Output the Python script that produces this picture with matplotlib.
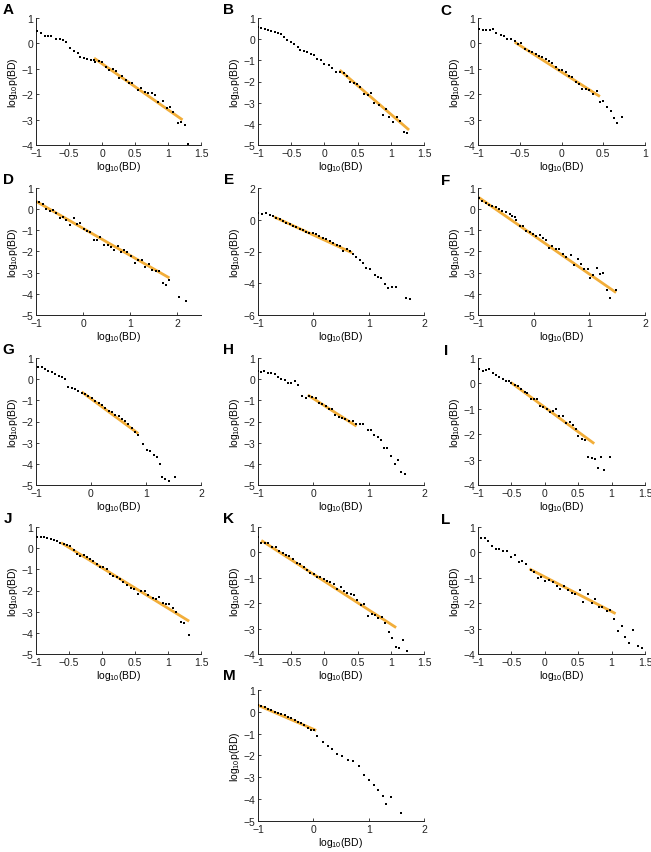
import matplotlib
matplotlib.use("Agg")
import matplotlib.pyplot as plt

plt.rcParams['font.family'] = ['Liberation Sans', 'DejaVu Sans']
plt.rcParams['mathtext.fontset'] = 'custom'
plt.rcParams['mathtext.rm'] = 'Liberation Sans'
plt.rcParams['mathtext.it'] = 'Liberation Sans'

# ---------------- data ----------------
A_x = [-0.99, -0.93, -0.87, -0.82, -0.77, -0.69, -0.64, -0.59, -0.54, -0.49, -0.43, -0.37, -0.33, -0.28,
       -0.22, -0.17, -0.12, -0.11, -0.05, 0.005, 0.06, 0.11, 0.16, 0.21, 0.26, 0.31, 0.36, 0.41, 0.46,
       0.54, 0.59, 0.65, 0.70, 0.75, 0.80, 0.85, 0.92, 0.98, 1.03, 1.08, 1.15, 1.20, 1.25, 1.31]
A_y = [0.47, 0.42, 0.29, 0.31, 0.31, 0.18, 0.19, 0.12, 0.07, -0.17, -0.28, -0.39, -0.52, -0.58,
       -0.62, -0.64, -0.65, -0.74, -0.69, -0.72, -0.91, -1.04, -1.00, -1.10, -1.36, -1.30, -1.43, -1.56, -1.56,
       -1.84, -1.77, -1.93, -1.96, -1.97, -2.03, -2.30, -2.28, -2.56, -2.51, -2.69, -3.12, -3.09, -3.22, -3.97]
A_fit_x = [-0.12, 1.22]
A_fit_y = [-0.58, -3.01]

B_x = [-1.0, -0.95, -0.90, -0.85, -0.80, -0.75, -0.70, -0.65, -0.61, -0.56, -0.51, -0.46, -0.40, -0.36,
       -0.31, -0.26, -0.20, -0.15, -0.11, -0.05, 0.0, 0.065, 0.12, 0.18, 0.24, 0.29, 0.34, 0.39, 0.44,
       0.49, 0.54, 0.59, 0.65, 0.70, 0.75, 0.815, 0.875, 0.925, 0.975, 1.03, 1.09, 1.14, 1.20, 1.25]
B_y = [0.56, 0.53, 0.48, 0.42, 0.40, 0.36, 0.29, 0.23, 0.10, -0.02, -0.15, -0.24, -0.38, -0.49,
       -0.54, -0.62, -0.70, -0.76, -0.96, -1.00, -1.15, -1.23, -1.36, -1.53, -1.53, -1.62, -1.76, -2.01, -2.09,
       -2.14, -2.25, -2.59, -2.64, -2.56, -3.00, -3.10, -3.58, -3.32, -3.68, -3.91, -3.66, -3.87, -4.37, -4.45]
B_fit_x = [0.23, 1.275]
B_fit_y = [-1.46, -4.29]

C_x = [-0.99, -0.94, -0.90, -0.86, -0.82, -0.78, -0.73, -0.69, -0.65, -0.60, -0.56, -0.52, -0.48, -0.44,
       -0.39, -0.35, -0.31, -0.27, -0.23, -0.19, -0.15, -0.11, -0.07, -0.03, 0.01, 0.05, 0.09, 0.13, 0.17,
       0.21, 0.25, 0.29, 0.33, 0.38, 0.42, 0.46, 0.50, 0.54, 0.59, 0.63, 0.67, 0.72]
C_y = [0.58, 0.54, 0.53, 0.53, 0.56, 0.41, 0.34, 0.31, 0.18, 0.18, 0.08, -0.02, 0.0, -0.21,
       -0.28, -0.35, -0.41, -0.48, -0.54, -0.61, -0.68, -0.77, -0.91, -1.03, -1.04, -1.14, -1.27, -1.34, -1.53,
       -1.60, -1.80, -1.80, -1.82, -1.99, -1.89, -2.32, -2.26, -2.52, -2.65, -2.94, -3.12, -2.88]
C_fit_x = [-0.56, 0.46]
C_fit_y = [0.05, -2.09]

D_x = [-1.0, -0.93, -0.85, -0.78, -0.71, -0.64, -0.57, -0.50, -0.43, -0.36, -0.27, -0.20, -0.13, -0.06,
       0.01, 0.08, 0.15, 0.22, 0.29, 0.36, 0.45, 0.52, 0.59, 0.66, 0.73, 0.80, 0.87, 0.94, 1.01, 1.10,
       1.17, 1.24, 1.31, 1.39, 1.47, 1.54, 1.61, 1.69, 1.76, 1.83, 2.04, 2.19]
D_y = [0.35, 0.32, 0.25, 0.0, -0.11, -0.06, -0.16, -0.43, -0.37, -0.52, -0.75, -0.43, -0.71, -0.63,
       -0.92, -1.03, -1.06, -1.46, -1.46, -1.30, -1.67, -1.67, -1.78, -1.94, -1.75, -2.03, -1.95, -2.02, -2.22,
       -2.54, -2.41, -2.38, -2.73, -2.59, -2.86, -2.94, -2.94, -3.49, -3.57, -3.33, -4.16, -4.32]
D_fit_x = [-1.0, 1.83]
D_fit_y = [0.37, -3.25]

E_x = [-1.0, -0.92, -0.85, -0.79, -0.73, -0.67, -0.61, -0.55, -0.49, -0.43, -0.37, -0.31, -0.25, -0.19,
       -0.13, -0.07, -0.006, 0.05, 0.11, 0.17, 0.23, 0.30, 0.36, 0.42, 0.48, 0.54, 0.60, 0.66, 0.72, 0.78,
       0.84, 0.90, 0.96, 1.02, 1.11, 1.17, 1.23, 1.29, 1.35, 1.43, 1.50, 1.68, 1.74]
E_y = [0.41, 0.39, 0.43, 0.33, 0.22, 0.14, 0.03, -0.07, -0.18, -0.29, -0.39, -0.48, -0.56, -0.67,
       -0.75, -0.81, -0.86, -0.92, -1.03, -1.13, -1.24, -1.34, -1.45, -1.58, -1.66, -1.94, -1.83, -1.98, -2.13,
       -2.34, -2.51, -2.72, -3.04, -3.08, -3.50, -3.61, -3.69, -4.05, -4.31, -4.24, -4.26, -4.94, -5.01]
E_fit_x = [-0.71, 0.70]
E_fit_y = [0.18, -2.08]

F_x = [-0.98, -0.92, -0.86, -0.80, -0.74, -0.68, -0.62, -0.56, -0.49, -0.43, -0.39, -0.34, -0.31, -0.25,
       -0.19, -0.13, -0.07, -0.01, 0.05, 0.11, 0.17, 0.23, 0.27, 0.33, 0.40, 0.46, 0.52, 0.58, 0.67, 0.73,
       0.79, 0.85, 0.91, 0.97, 1.01, 1.07, 1.13, 1.19, 1.25, 1.31, 1.37, 1.48]
F_y = [0.53, 0.37, 0.27, 0.21, 0.15, 0.08, 0.0, -0.07, -0.12, -0.23, -0.31, -0.36, -0.50, -0.79,
       -0.79, -1.02, -1.10, -1.18, -1.26, -1.21, -1.34, -1.46, -1.84, -1.73, -1.89, -1.89, -2.10, -2.24, -2.16, -2.65,
       -2.34, -2.57, -2.81, -2.81, -3.23, -3.12, -2.79, -3.08, -3.00, -3.83, -4.18, -3.83]
F_fit_x = [-0.99, 1.48]
F_fit_y = [0.56, -3.94]

G_x = [-0.96, -0.90, -0.84, -0.78, -0.71, -0.65, -0.59, -0.53, -0.47, -0.41, -0.35, -0.29, -0.23, -0.17,
       -0.11, -0.05, 0.01, 0.07, 0.14, 0.20, 0.26, 0.32, 0.38, 0.44, 0.50, 0.56, 0.62, 0.68, 0.74, 0.80,
       0.86, 0.94, 1.02, 1.08, 1.14, 1.20, 1.25, 1.29, 1.35, 1.41, 1.53]
G_y = [0.59, 0.56, 0.48, 0.40, 0.32, 0.24, 0.16, 0.08, 0.0, -0.37, -0.43, -0.48, -0.56, -0.63,
       -0.68, -0.79, -0.90, -1.03, -1.14, -1.24, -1.35, -1.51, -1.56, -1.67, -1.75, -1.86, -1.98, -2.14, -2.30, -2.51,
       -2.62, -3.06, -3.37, -3.38, -3.57, -3.68, -4.02, -4.63, -4.73, -4.79, -4.60]
G_fit_x = [-0.17, 0.86]
G_fit_y = [-0.60, -2.57]

H_x = [-1.0, -0.95, -0.89, -0.82, -0.76, -0.70, -0.64, -0.58, -0.52, -0.46, -0.40, -0.34, -0.28, -0.20,
       -0.14, -0.08, -0.02, 0.04, 0.10, 0.16, 0.22, 0.28, 0.34, 0.40, 0.46, 0.52, 0.58, 0.64, 0.72, 0.78,
       0.84, 0.90, 0.98, 1.04, 1.10, 1.16, 1.22, 1.28, 1.34, 1.40, 1.47, 1.53, 1.59, 1.65]
H_y = [0.37, 0.33, 0.37, 0.29, 0.29, 0.24, 0.11, 0.03, -0.03, -0.19, -0.17, -0.11, -0.27, -0.79,
       -0.87, -0.81, -0.83, -0.90, -1.11, -1.16, -1.27, -1.40, -1.43, -1.67, -1.78, -1.84, -1.90, -1.98, -1.98, -2.14,
       -2.11, -2.11, -2.38, -2.38, -2.65, -2.73, -2.86, -3.25, -3.25, -3.62, -4.00, -3.84, -4.37, -4.48]
H_fit_x = [-0.10, 0.78]
H_fit_y = [-0.75, -2.22]

I_x = [-0.98, -0.93, -0.88, -0.83, -0.78, -0.73, -0.68, -0.63, -0.58, -0.53, -0.50, -0.45, -0.40, -0.35,
       -0.30, -0.26, -0.21, -0.16, -0.11, -0.07, -0.02, 0.03, 0.08, 0.13, 0.17, 0.22, 0.27, 0.32, 0.37, 0.42,
       0.47, 0.50, 0.55, 0.60, 0.65, 0.70, 0.75, 0.79, 0.84, 0.89, 0.98]
I_y = [0.57, 0.47, 0.54, 0.57, 0.39, 0.34, 0.24, 0.17, 0.11, 0.09, 0.0, -0.05, -0.12, -0.22,
       -0.32, -0.38, -0.62, -0.62, -0.62, -0.88, -0.93, -1.01, -1.12, -1.08, -1.01, -1.30, -1.30, -1.54, -1.51, -1.64,
       -1.78, -2.09, -2.17, -2.22, -2.89, -2.95, -2.99, -3.32, -2.89, -3.42, -2.89]
I_fit_x = [-0.51, 0.74]
I_fit_y = [0.04, -2.37]

J_x = [-0.98, -0.93, -0.88, -0.83, -0.78, -0.73, -0.68, -0.63, -0.58, -0.53, -0.48, -0.43, -0.38, -0.33,
       -0.28, -0.23, -0.18, -0.13, -0.08, -0.03, 0.02, 0.07, 0.12, 0.17, 0.22, 0.27, 0.32, 0.385, 0.435, 0.485,
       0.545, 0.595, 0.645, 0.695, 0.77, 0.82, 0.87, 0.92, 0.97, 1.02, 1.07, 1.12, 1.195, 1.245, 1.32]
J_y = [0.53, 0.53, 0.51, 0.46, 0.42, 0.37, 0.32, 0.26, 0.18, 0.13, 0.08, -0.11, -0.26, -0.39,
       -0.34, -0.42, -0.53, -0.61, -0.77, -0.90, -0.90, -0.97, -1.21, -1.32, -1.37, -1.45, -1.61, -1.76, -1.87, -1.95,
       -2.16, -2.00, -2.03, -2.19, -2.36, -2.40, -2.32, -2.60, -2.63, -2.63, -2.84, -3.03, -3.50, -3.53, -4.09]
J_fit_x = [-0.62, 1.32]
J_fit_y = [0.26, -3.45]

K_x = [-1.0, -0.95, -0.90, -0.85, -0.79, -0.73, -0.68, -0.63, -0.58, -0.53, -0.47, -0.41, -0.36, -0.31,
       -0.26, -0.21, -0.16, -0.11, -0.06, -0.01, 0.04, 0.09, 0.145, 0.185, 0.245, 0.295, 0.345, 0.395, 0.445, 0.495,
       0.545, 0.595, 0.655, 0.71, 0.76, 0.81, 0.86, 0.92, 0.97, 1.02, 1.08, 1.13, 1.19, 1.25]
K_y = [0.60, 0.37, 0.37, 0.36, 0.20, 0.20, 0.07, -0.04, -0.09, -0.16, -0.27, -0.43, -0.44, -0.57,
       -0.71, -0.80, -0.87, -0.96, -0.97, -1.03, -1.11, -1.17, -1.23, -1.44, -1.37, -1.53, -1.60, -1.64, -1.69, -1.89,
       -2.09, -2.04, -2.49, -2.44, -2.47, -2.60, -2.56, -2.76, -3.13, -3.37, -3.71, -3.76, -3.43, -3.89]
K_fit_x = [-0.95, 1.08]
K_fit_y = [0.47, -2.96]

L_x = [-0.96, -0.90, -0.85, -0.79, -0.73, -0.68, -0.63, -0.56, -0.51, -0.45, -0.39, -0.34, -0.28, -0.21,
       -0.16, -0.10, -0.05, 0.01, 0.06, 0.12, 0.18, 0.23, 0.29, 0.34, 0.40, 0.45, 0.52, 0.57, 0.64, 0.70,
       0.75, 0.81, 0.86, 0.93, 0.98, 1.04, 1.09, 1.15, 1.20, 1.26, 1.32, 1.39, 1.45]
L_y = [0.56, 0.56, 0.43, 0.27, 0.14, 0.14, 0.05, 0.05, -0.19, -0.12, -0.36, -0.32, -0.46, -0.69,
       -0.76, -1.01, -0.95, -1.12, -1.09, -1.18, -1.31, -1.45, -1.31, -1.49, -1.58, -1.65, -1.49, -1.94, -1.65, -1.98,
       -1.84, -2.15, -2.15, -2.31, -2.28, -2.61, -3.10, -2.90, -3.34, -3.56, -3.07, -3.70, -3.76]
L_fit_x = [-0.23, 1.06]
L_fit_y = [-0.65, -2.41]

M_x = [-1.0, -0.94, -0.88, -0.82, -0.76, -0.70, -0.64, -0.58, -0.52, -0.46, -0.40, -0.34, -0.28, -0.22,
       -0.16, -0.10, -0.04, 0.02, 0.07, 0.17, 0.26, 0.34, 0.43, 0.52, 0.62, 0.72, 0.83, 0.91, 1.00, 1.09,
       1.17, 1.26, 1.31, 1.40, 1.59]
M_y = [0.32, 0.25, 0.22, 0.15, 0.08, 0.0, -0.05, -0.12, -0.15, -0.25, -0.30, -0.38, -0.45, -0.50,
       -0.60, -0.72, -0.82, -0.85, -1.09, -1.39, -1.57, -1.70, -1.91, -2.04, -2.22, -2.26, -2.48, -2.91, -3.13, -3.35,
       -3.57, -3.87, -4.22, -3.91, -4.65]
M_fit_x = [-1.0, 0.05]
M_fit_y = [0.30, -0.85]

letters = ['A', 'B', 'C', 'D', 'E', 'F', 'G', 'H', 'I', 'J', 'K', 'L', 'M']
xs = [A_x, B_x, C_x, D_x, E_x, F_x, G_x, H_x, I_x, J_x, K_x, L_x, M_x]
ys = [A_y, B_y, C_y, D_y, E_y, F_y, G_y, H_y, I_y, J_y, K_y, L_y, M_y]
fxs = [A_fit_x, B_fit_x, C_fit_x, D_fit_x, E_fit_x, F_fit_x, G_fit_x, H_fit_x, I_fit_x, J_fit_x, K_fit_x, L_fit_x, M_fit_x]
fys = [A_fit_y, B_fit_y, C_fit_y, D_fit_y, E_fit_y, F_fit_y, G_fit_y, H_fit_y, I_fit_y, J_fit_y, K_fit_y, L_fit_y, M_fit_y]

x_limits = [(-1, 1.5), (-1, 1.5), (-1, 1), (-1, 2.5), (-1, 2), (-1, 2), (-1, 2), (-1, 2), (-1, 1.5),
            (-1, 1.5), (-1, 1.5), (-1, 1.5), (-1, 2)]
x_ticks = [[-1, -0.5, 0, 0.5, 1, 1.5], [-1, -0.5, 0, 0.5, 1, 1.5], [-1, -0.5, 0, 0.5, 1],
           [-1, 0, 1, 2], [-1, 0, 1, 2], [-1, 0, 1, 2], [-1, 0, 1, 2], [-1, 0, 1, 2],
           [-1, -0.5, 0, 0.5, 1, 1.5], [-1, -0.5, 0, 0.5, 1, 1.5], [-1, -0.5, 0, 0.5, 1, 1.5],
           [-1, -0.5, 0, 0.5, 1, 1.5], [-1, 0, 1, 2]]
y_limits = [(-4, 1), (-5, 1), (-4, 1), (-5, 1), (-6, 2), (-5, 1), (-5, 1), (-5, 1), (-4, 1),
            (-5, 1), (-4, 1), (-4, 1), (-5, 1)]
y_steps = [1, 1, 1, 1, 2, 1, 1, 1, 1, 1, 1, 1, 1]

# ---------------- layout (pixels) ----------------
W, H = 651, 853
fig = plt.figure(figsize=(W / 100, H / 100), dpi=100)
fig.patch.set_facecolor('white')

col_left = [36, 258, 478]
col_w = [165, 166, 167]
row_top = [19, 189, 359, 528]
row_h = 127
letter_pos = [(8, 10), (229, 10), (446, 11)]


def fmt(v):
    if float(v).is_integer():
        s = str(int(v))
    else:
        s = ('%g' % v)
    return s.replace('-', '\u2212')


for i, L in enumerate(letters):
    if i < 12:
        r, c = divmod(i, 3)
        left, width = col_left[c], col_w[c]
        top, hgt = row_top[r], row_h
    else:
        left, width = 258, 166
        top, hgt = 691, 131
    ax = fig.add_axes([left / W, 1 - (top + hgt) / H, width / W, hgt / H])
    ax.plot(fxs[i], fys[i], color='#F2AE3A', lw=2.0, solid_capstyle='butt', zorder=2)
    ax.plot(xs[i], ys[i], 's', color='black', ms=1.8, mew=0, zorder=3)
    ax.set_xlim(*x_limits[i])
    ax.set_ylim(*y_limits[i])
    ax.set_xticks(x_ticks[i])
    ax.set_xticklabels([fmt(v) for v in x_ticks[i]])
    lo, hi = y_limits[i]
    yt = list(range(lo, hi + 1, y_steps[i]))
    ax.set_yticks(yt)
    ax.set_yticklabels([fmt(v) for v in yt])
    for s in ['top', 'right']:
        ax.spines[s].set_visible(False)
    for s in ['left', 'bottom']:
        ax.spines[s].set_linewidth(0.7)
        ax.spines[s].set_color('#222222')
    ax.tick_params(direction='in', length=2.5, width=0.6, labelsize=7.5, pad=2, colors='#222222')
    ax.set_xlabel('log$_{10}$(BD)', fontsize=7.5, labelpad=1)
    ax.set_ylabel('log$_{10}$p(BD)', fontsize=7.5, labelpad=1)
    if i < 12:
        r, c = divmod(i, 3)
        lx, ly = letter_pos[c][0], letter_pos[c][1] + [0, 170, 340, 509][r]
    else:
        lx, ly = 229, 676
    fig.text(lx / W, 1 - ly / H, L, fontsize=11, fontweight='bold', ha='center', va='center')

fig.savefig('out.png', dpi=100, facecolor='white')
